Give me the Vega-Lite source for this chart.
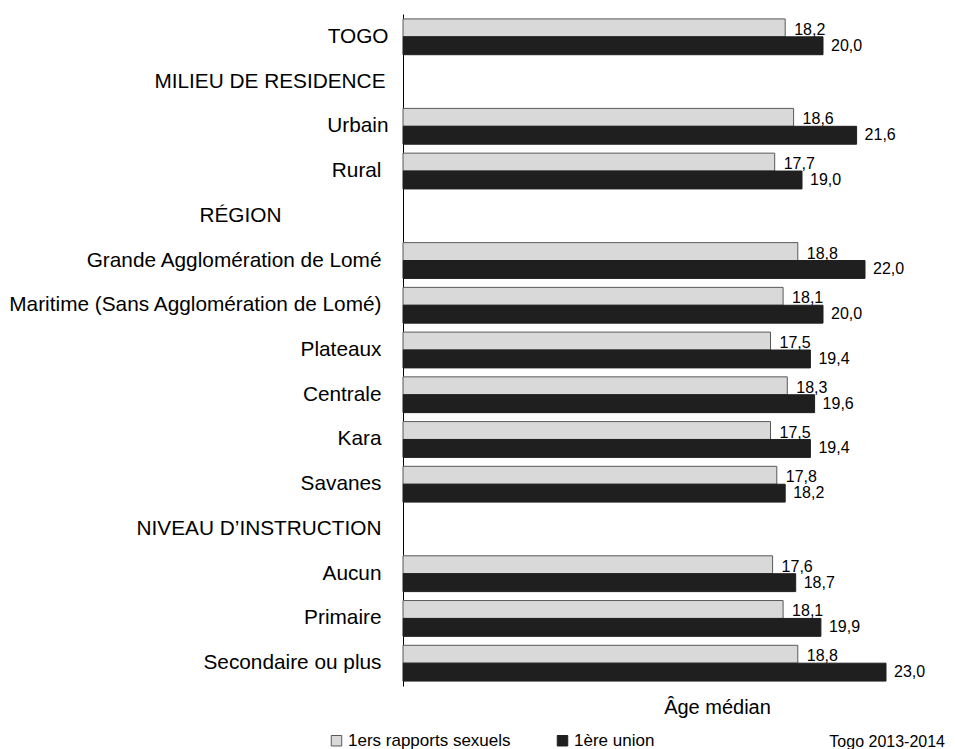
{
  "$schema": "https://vega.github.io/schema/vega-lite/v6.json",
  "width": 552,
  "height": 672,
  "autosize": {"type": "none"},
  "padding": {"left": 403, "top": 14, "right": 0, "bottom": 63},
  "config": {
    "view": {"stroke": null},
    "font": "Liberation Sans",
    "locale": {"number": {"decimal": ",", "thousands": " ", "grouping": [3], "currency": ["", " €"]}}
  },
  "title": {
    "text": "Togo 2013-2014",
    "orient": "bottom",
    "anchor": "end",
    "frame": "group",
    "fontSize": 16,
    "fontWeight": "normal",
    "color": "#000",
    "offset": 0,
    "dx": -10,
    "dy": -15
  },
  "data": {
    "values": [
      {"categorie": "TOGO", "serie": "1ers rapports sexuels", "valeur": 18.2},
      {"categorie": "TOGO", "serie": "1ère union", "valeur": 20.0},
      {"categorie": "Urbain", "serie": "1ers rapports sexuels", "valeur": 18.6},
      {"categorie": "Urbain", "serie": "1ère union", "valeur": 21.6},
      {"categorie": "Rural", "serie": "1ers rapports sexuels", "valeur": 17.7},
      {"categorie": "Rural", "serie": "1ère union", "valeur": 19.0},
      {"categorie": "Grande Agglomération de Lomé", "serie": "1ers rapports sexuels", "valeur": 18.8},
      {"categorie": "Grande Agglomération de Lomé", "serie": "1ère union", "valeur": 22.0},
      {"categorie": "Maritime (Sans Agglomération de Lomé)", "serie": "1ers rapports sexuels", "valeur": 18.1},
      {"categorie": "Maritime (Sans Agglomération de Lomé)", "serie": "1ère union", "valeur": 20.0},
      {"categorie": "Plateaux", "serie": "1ers rapports sexuels", "valeur": 17.5},
      {"categorie": "Plateaux", "serie": "1ère union", "valeur": 19.4},
      {"categorie": "Centrale", "serie": "1ers rapports sexuels", "valeur": 18.3},
      {"categorie": "Centrale", "serie": "1ère union", "valeur": 19.6},
      {"categorie": "Kara", "serie": "1ers rapports sexuels", "valeur": 17.5},
      {"categorie": "Kara", "serie": "1ère union", "valeur": 19.4},
      {"categorie": "Savanes", "serie": "1ers rapports sexuels", "valeur": 17.8},
      {"categorie": "Savanes", "serie": "1ère union", "valeur": 18.2},
      {"categorie": "Aucun", "serie": "1ers rapports sexuels", "valeur": 17.6},
      {"categorie": "Aucun", "serie": "1ère union", "valeur": 18.7},
      {"categorie": "Primaire", "serie": "1ers rapports sexuels", "valeur": 18.1},
      {"categorie": "Primaire", "serie": "1ère union", "valeur": 19.9},
      {"categorie": "Secondaire ou plus", "serie": "1ers rapports sexuels", "valeur": 18.8},
      {"categorie": "Secondaire ou plus", "serie": "1ère union", "valeur": 23.0}
    ]
  },
  "encoding": {
    "y": {
      "field": "categorie",
      "type": "nominal",
      "title": null,
      "scale": {
        "domain": ["TOGO", "MILIEU DE RESIDENCE", "Urbain", "Rural", "RÉGION", "Grande Agglomération de Lomé", "Maritime (Sans Agglomération de Lomé)", "Plateaux", "Centrale", "Kara", "Savanes", "NIVEAU D’INSTRUCTION", "Aucun", "Primaire", "Secondaire ou plus"],
        "paddingInner": 0.2,
        "paddingOuter": 0.11
      },
      "axis": {
        "ticks": false,
        "domainColor": "#000",
        "domainWidth": 1,
        "labelFontSize": 20.8,
        "labelColor": "#000",
        "labelLimit": 500,
        "labelPadding": {
          "condition": [
            {"test": "indexof(datum.value, 'GION') >= 0", "value": 122},
            {"test": "datum.value == 'TOGO' || datum.value == 'Urbain'", "value": 15},
            {"test": "indexof(datum.value, 'MILIEU') >= 0", "value": 18}
          ],
          "value": 22
        }
      }
    },
    "x": {
      "field": "valeur",
      "type": "quantitative",
      "scale": {"domain": [0, 26.2857], "nice": false},
      "axis": {
        "domain": false,
        "ticks": false,
        "labels": false,
        "grid": false,
        "title": "Âge médian",
        "titleFontSize": 20,
        "titleFontWeight": "normal",
        "titleColor": "#000",
        "titleX": 314,
        "titleY": 27,
        "titleAlign": "center",
        "titleBaseline": "alphabetic"
      }
    },
    "yOffset": {
      "field": "serie",
      "type": "nominal",
      "sort": ["1ers rapports sexuels", "1ère union"],
      "scale": {"paddingInner": 0, "paddingOuter": 0}
    }
  },
  "layer": [
    {
      "mark": {"type": "bar", "strokeWidth": 1},
      "encoding": {
        "color": {
          "field": "serie",
          "type": "nominal",
          "sort": ["1ers rapports sexuels", "1ère union"],
          "scale": {"domain": ["1ers rapports sexuels", "1ère union"], "range": ["#d9d9d9", "#1f1f1f"]},
          "legend": {
            "orient": "none",
            "legendX": -75,
            "legendY": 718,
            "direction": "horizontal",
            "title": null,
            "padding": 0,
            "symbolType": "square",
            "symbolSize": 110,
            "symbolStrokeColor": "#555",
            "symbolStrokeWidth": 1,
            "symbolOpacity": 1,
            "labelFontSize": 17,
            "labelColor": "#000",
            "labelOffset": 3,
            "columnPadding": 43,
            "labelLimit": 300
          }
        },
        "stroke": {
          "field": "serie",
          "type": "nominal",
          "scale": {"domain": ["1ers rapports sexuels", "1ère union"], "range": ["#595959", "#1f1f1f"]},
          "legend": null
        }
      }
    },
    {
      "transform": [{"filter": "datum.serie == '1ers rapports sexuels'"}],
      "mark": {"type": "text", "align": "left", "baseline": "middle", "dx": 9, "dy": 2, "fontSize": 16, "color": "#000"},
      "encoding": {"text": {"field": "valeur", "type": "quantitative", "format": ".1f"}}
    },
    {
      "transform": [{"filter": "datum.serie == '1ère union'"}],
      "mark": {"type": "text", "align": "left", "baseline": "middle", "dx": 8, "dy": 0, "fontSize": 16, "color": "#000"},
      "encoding": {"text": {"field": "valeur", "type": "quantitative", "format": ".1f"}}
    }
  ]
}
